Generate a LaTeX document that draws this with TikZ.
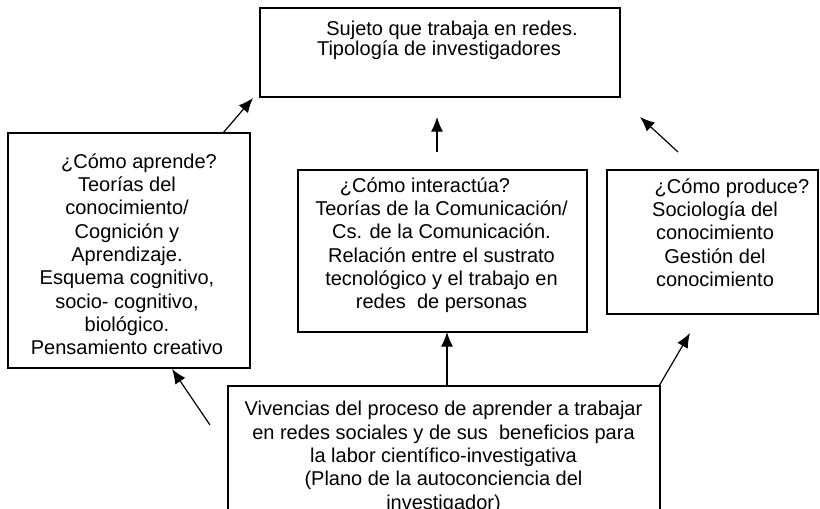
\documentclass[tikz,border=0pt]{standalone}
\usepackage{fontspec}
\setmainfont{Liberation Sans}
\usetikzlibrary{arrows.meta}
\tikzset{
  box/.style={draw=black, line width=0.8pt, rectangle, inner sep=0pt, outer sep=0pt},
  txt/.style={anchor=north, align=center, inner sep=0pt, font=\fontsize{15pt}{17.5pt}\selectfont},
  txttop/.style={anchor=north, align=center, inner sep=0pt, font=\fontsize{15pt}{15pt}\selectfont},
  arr/.style={line width=0.9pt, -{Latex[length=11pt,width=9pt]}}
}
\newcommand{\fs}{\rule{0pt}{15pt}}
\begin{document}
\begin{tikzpicture}[x=0.75pt, y=-0.75pt]
\useasboundingbox (0,0) rectangle (820,509);
\clip (0,0) rectangle (820,509);
% boxes
\node[box, minimum width=270pt, minimum height=66.75pt] (top) at (440,52.5) {};
\node[box, minimum width=181.5pt, minimum height=176.25pt] (left) at (129,250.5) {};
\node[box, minimum width=216.75pt, minimum height=121.5pt] (mid) at (442.5,251) {};
\node[box, minimum width=158.25pt, minimum height=108pt] (right) at (712.5,242) {};
\node[box, minimum width=324pt, minimum height=108pt] (bot) at (444,458) {};
% texts
\node[txttop] (ttop) at (439,15.7) {\fs\hspace*{19.5pt}Sujeto que trabaja en redes.\\Tipología de investigadores};
\node[txt] (tleft) at (127,148) {\fs\hspace*{18pt}¿Cómo aprende?\\Teorías del\\conocimiento/\\Cognición y\\Aprendizaje.\\Esquema cognitivo,\\socio- cognitivo,\\biológico.\\Pensamiento creativo};
\node[txt] (tmid) at (441.5,172) {\fs¿Cómo interactúa?\hspace*{24.75pt}\\Teorías de la Comunicación/\\Cs. de la Comunicación.\\Relación entre el sustrato\\tecnológico y el trabajo en\\redes\ \ de personas};
\node[txt] (tright) at (715,173) {\fs\hspace*{25.5pt}¿Cómo produce?\\Sociología del\\conocimiento\\Gestión del\\conocimiento};
\node[txt] (tbot) at (443.5,395.5) {\fs Vivencias del proceso de aprender a trabajar\\en redes sociales y de sus\ \ beneficios para\\la labor científico-investigativa\\(Plano de la autoconciencia del\\investigador)};
% arrow end points
\coordinate (a1s) at (223,133);
\coordinate (a1e) at (253,98);
\coordinate (a2s) at (437,152);
\coordinate (a2e) at (437,117);
\coordinate (a3s) at (678,152);
\coordinate (a3e) at (640,117);
\coordinate (a4s) at (447,386);
\coordinate (a4e) at (447,332);
\coordinate (a5s) at (210,425);
\coordinate (a5e) at (172,369);
\coordinate (a6s) at (659,386);
\coordinate (a6e) at (690,333);
\draw[arr] (a1s) -- (a1e);
\draw[arr] (a2s) -- (a2e);
\draw[arr] (a3s) -- (a3e);
\draw[arr] (a4s) -- (a4e);
\draw[arr] (a5s) -- (a5e);
\draw[arr] (a6s) -- (a6e);
\end{tikzpicture}
\end{document}
